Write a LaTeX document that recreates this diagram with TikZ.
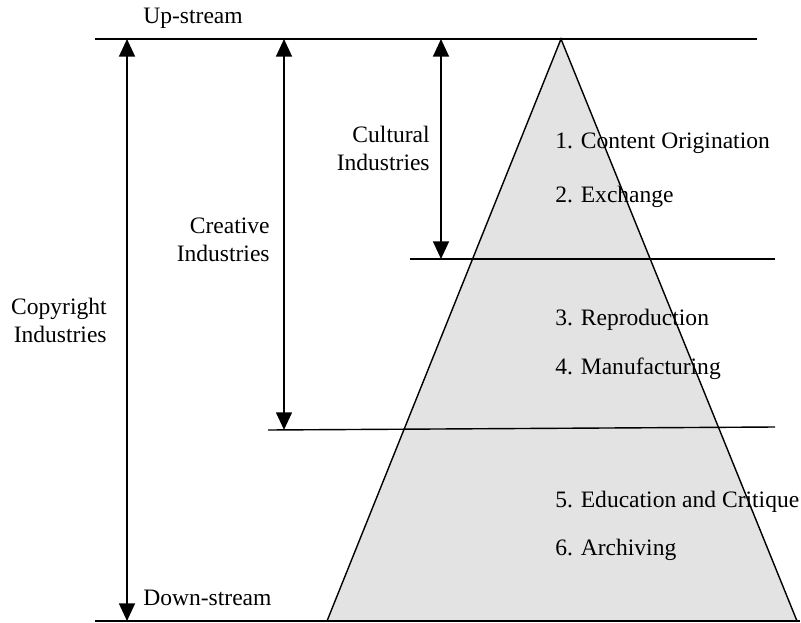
\documentclass[tikz,border=0pt]{standalone}
\usepackage{fontspec}
\setmainfont{Liberation Serif}
\usetikzlibrary{arrows.meta}

\definecolor{layergray}{RGB}{227,227,227}

\tikzset{
	label/.style={inner sep=0pt, font=\fontsize{13.4}{16}\selectfont},
	group/.style={label, align=right, anchor=east},
	stage/.style={label, anchor=west},
	span/.style={line width=1.1pt, {Triangle[width=9pt,length=10pt]}-{Triangle[width=9pt,length=10pt]}},
	level/.style={line width=0.8pt}
}

\begin{document}
\begin{tikzpicture}[x=0.02cm, y=-0.02cm]
	\useasboundingbox (0,0) rectangle (801,622);

	% pyramid
	\coordinate (apex) at (561,39);
	\coordinate (bl) at (327,621);
	\coordinate (br) at (797,621);
	\filldraw[fill=layergray, line width=0.8pt] (apex) -- (bl) -- (br) -- cycle;

	% level lines
	\coordinate (top l) at (95,39);
	\coordinate (top r) at (757,39);
	\coordinate (bot l) at (95,621);
	\coordinate (bot r) at (800,621);
	\coordinate (cul l) at (410,259);
	\coordinate (cul r) at (775,259);
	\coordinate (cre l) at (268,430);
	\coordinate (cre r) at (775,427);
	\draw[level] (top l) -- (top r);
	\draw[level] (bot l) -- (bot r);
	\draw[level] (cul l) -- (cul r);
	\draw[level] (cre l) -- (cre r);

	% spans
	\coordinate (copy t) at (127,39);
	\coordinate (copy b) at (127,621);
	\coordinate (crea t) at (284,39);
	\coordinate (crea b) at (284,429.9);
	\coordinate (cult t) at (441,39);
	\coordinate (cult b) at (441,259);
	\draw[span] (copy t) -- (copy b);
	\draw[span] (crea t) -- (crea b);
	\draw[span] (cult t) -- (cult b);

	\node[stage] (up) at (143,18) {Up-stream};
	\node[stage] (down) at (143,598) {Down-stream};
	\node[group] (copyright) at (107,320) {Copyright\\Industries};
	\node[group] (creative) at (270,240) {Creative\\Industries};
	\node[group] (cultural) at (430,148) {Cultural\\Industries};

	\node[stage] (s1) at (555,143) {1. Content Origination};
	\node[stage] (s2) at (555,197) {2. Exchange};
	\node[stage] (s3) at (555,320) {3. Reproduction};
	\node[stage] (s4) at (555,369) {4. Manufacturing};
	\node[stage] (s5) at (555,502) {5. Education and Critique};
	\node[stage] (s6) at (555,550) {6. Archiving};
\end{tikzpicture}
\end{document}
